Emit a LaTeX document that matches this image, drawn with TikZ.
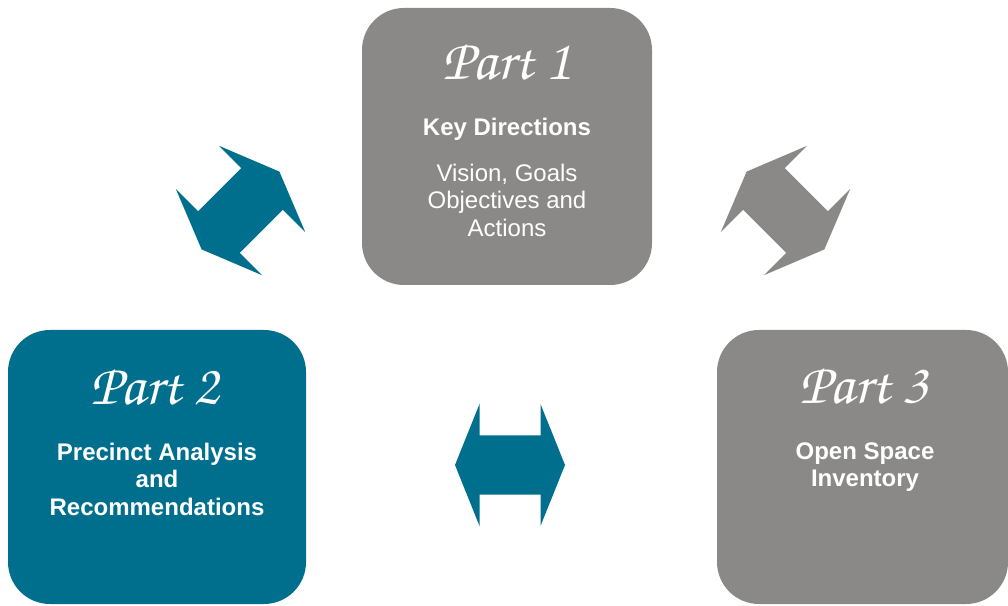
\documentclass[tikz,border=0pt]{standalone}
\usepackage[T1]{fontenc}
\usepackage{fontspec}
\setmainfont{Liberation Sans}
\usepackage{xcolor}
\usepackage{tikz}
\usetikzlibrary{positioning}

\definecolor{partteal}{HTML}{006F8E}
\definecolor{partgrey}{HTML}{8B8987}
\newcommand{\handfont}{\fontencoding{T1}\fontfamily{pzc}\fontseries{mb}\fontshape{it}\selectfont}

\tikzset{
  partbox/.style={rounded corners=42pt, inner sep=0pt},
  parttitle/.style={text=white, anchor=base, font=\fontsize{58}{62}\handfont},
  parthead/.style={text=white, align=center, font=\bfseries\fontsize{24}{27.5}\selectfont},
  partbody/.style={text=white, align=center, font=\fontsize{24}{27.5}\selectfont},
  dblarrow/.pic={\fill[#1] (-55,0) -- (-30.5,61) -- (-30.5,29.5) -- (30.5,29.5) -- (30.5,61)
    -- (55,0) -- (30.5,-61) -- (30.5,-29.5) -- (-30.5,-29.5) -- (-30.5,-61) -- cycle;}
}

\begin{document}
\begin{tikzpicture}[x=1pt,y=1pt]
            \useasboundingbox (0,0) rectangle (1008,605);
            % the three parts
            \node[partbox, fill=partgrey, minimum width=290pt, minimum height=277pt] (p1) at (507,458.5) {};
            \node[partbox, fill=partteal, minimum width=298pt, minimum height=274pt] (p2) at (157,138) {};
            \node[partbox, fill=partgrey, minimum width=291pt, minimum height=274pt] (p3) at (862.5,138) {};

            \node[parttitle] (t1) at (507,525) {Part 1};
            \node[parthead] (h1) at (507,476) {Key Directions};
            \node[partbody] (b1) at (507,405) {Vision, Goals\\Objectives and\\Actions};

            \node[parttitle] (t2) at (155,200) {Part 2};
            \node[parthead] (h2) at (157,126) {Precinct Analysis\\and\\Recommendations};

            \node[parttitle] (t3) at (864,201) {Part 3};
            \node[parthead] (h3) at (865,138) {Open Space\\Inventory};

            % arrows between the parts
            \pic[rotate=45] (a12) at (240.5,394.5) {dblarrow=partteal};
            \pic[rotate=-45] (a13) at (785.5,394.5) {dblarrow=partgrey};
            \pic (a23) at (510,140) {dblarrow=partteal};
          \end{tikzpicture}
\end{document}
